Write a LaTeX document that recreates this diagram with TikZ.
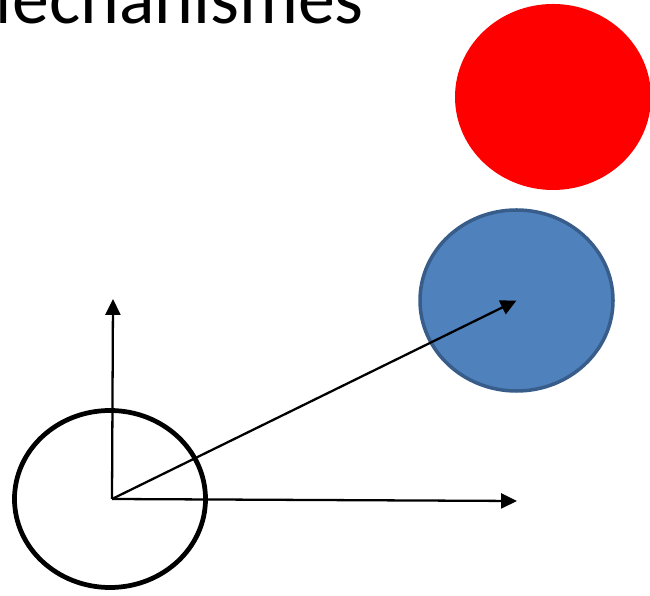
\documentclass[tikz,border=0pt]{standalone}
\usepackage{fontspec}
\setmainfont{Carlito}
\usetikzlibrary{arrows.meta,shapes.geometric}
\definecolor{bluefill}{RGB}{79,129,189}
\definecolor{blueline}{RGB}{56,93,138}
\tikzset{
  blob/.style={ellipse, inner sep=0pt, minimum width=#1},
  vec/.style={line width=1.3pt, -{Triangle[length=9pt,width=8.5pt]}}
}
\begin{document}
\begin{tikzpicture}[line join=round, >=stealth]
	\useasboundingbox (0,0) rectangle (13,11.9);
	\node[anchor=base west, inner sep=0pt, font=\fontsize{42}{50}\selectfont] (title) at (-1.02,11.42) {Mechanismes};
	\node[blob=3.92cm, minimum height=3.72cm, fill=red] (red) at (11.06,9.96) {};
	\node[blob=3.86cm, minimum height=3.62cm, fill=bluefill, draw=blueline, line width=2pt] (blue) at (10.33,5.89) {};
	\node[blob=3.82cm, minimum height=3.54cm, draw, line width=2.7pt] (body) at (2.2,1.92) {};
	\coordinate (O) at (2.24,1.92);
	\coordinate (yend) at (2.26,5.92);
	\coordinate (xend) at (10.34,1.88);
	\draw[vec] (O) -- (yend);
	\draw[vec] (O) -- (xend);
	\draw[vec] (O) -- (blue.center);
\end{tikzpicture}
\end{document}
